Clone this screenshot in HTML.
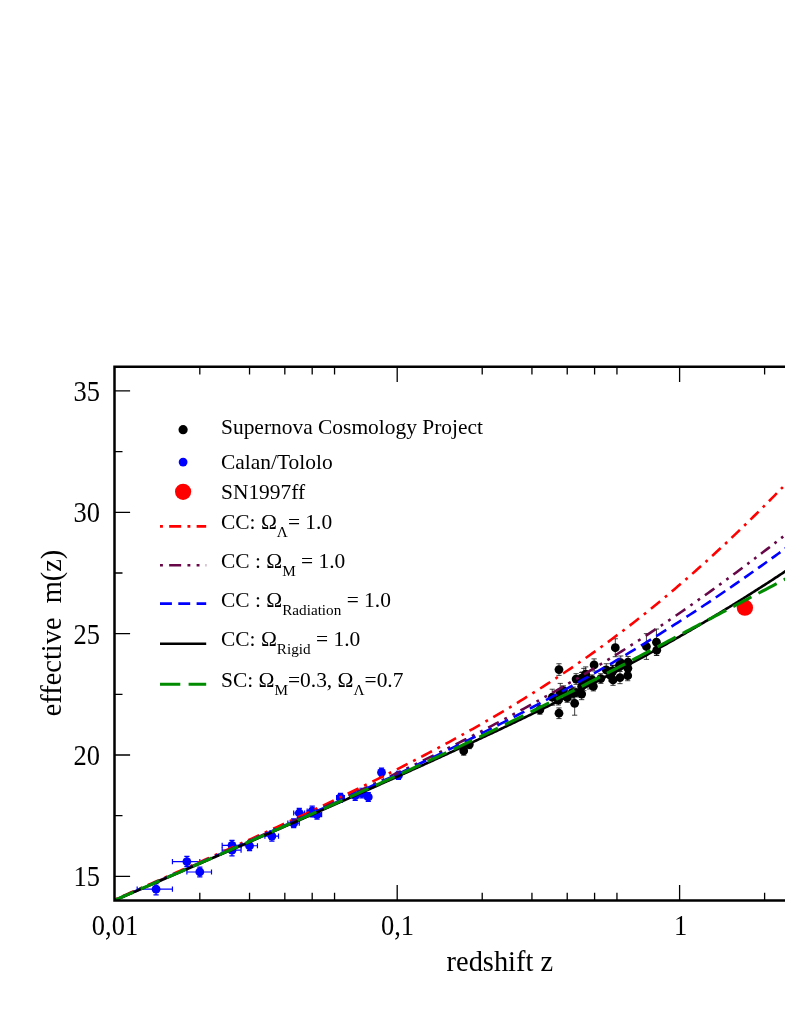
<!DOCTYPE html>
<html><head><meta charset="utf-8"><title>m(z)</title>
<style>
html,body{margin:0;padding:0;background:#fff;}
body{width:785px;height:1015px;position:relative;overflow:hidden;font-family:"Liberation Serif",serif;}
</style></head><body>
<svg width="785" height="1015" viewBox="0 0 785 1015" style="display:block;position:absolute;left:0;top:0;will-change:transform">
<rect width="785" height="1015" fill="#fff"/>
<defs><clipPath id="cp"><rect x="114.80" y="366.80" width="785.20" height="533.60"/></clipPath></defs>
<g clip-path="url(#cp)">
<path d="M583.83,668.36 V690.68 M581.23,668.36 H586.43 M581.23,690.68 H586.43" stroke="#000" stroke-width="0.75" fill="none"/>
<path d="M552.24,689.23 V705.25 M549.64,689.23 H554.84 M549.64,705.25 H554.84" stroke="#000" stroke-width="0.75" fill="none"/>
<path d="M574.66,691.41 V715.20 M572.06,691.41 H577.26 M572.06,715.20 H577.26" stroke="#000" stroke-width="0.75" fill="none"/>
<path d="M558.98,707.92 V718.60 M556.38,707.92 H561.58 M556.38,718.60 H561.58" stroke="#000" stroke-width="0.75" fill="none"/>
<path d="M573.21,687.04 V699.18 M570.61,687.04 H575.81 M570.61,699.18 H575.81" stroke="#000" stroke-width="0.75" fill="none"/>
<path d="M558.32,695.30 V705.00 M555.72,695.30 H560.92 M555.72,705.00 H560.92" stroke="#000" stroke-width="0.75" fill="none"/>
<path d="M560.28,683.40 V701.36 M557.68,683.40 H562.88 M557.68,701.36 H562.88" stroke="#000" stroke-width="0.75" fill="none"/>
<path d="M582.48,672.00 V684.13 M579.88,672.00 H585.08 M579.88,684.13 H585.08" stroke="#000" stroke-width="0.75" fill="none"/>
<path d="M585.69,666.90 V681.46 M583.09,666.90 H588.29 M583.09,681.46 H588.29" stroke="#000" stroke-width="0.75" fill="none"/>
<path d="M594.10,658.89 V671.03 M591.50,658.89 H596.70 M591.50,671.03 H596.70" stroke="#000" stroke-width="0.75" fill="none"/>
<path d="M627.71,670.54 V680.73 M625.11,670.54 H630.31 M625.11,680.73 H630.31" stroke="#000" stroke-width="0.75" fill="none"/>
<path d="M567.22,693.11 V702.33 M564.62,693.11 H569.82 M564.62,702.33 H569.82" stroke="#000" stroke-width="0.75" fill="none"/>
<path d="M619.98,671.51 V683.65 M617.38,671.51 H622.58 M617.38,683.65 H622.58" stroke="#000" stroke-width="0.75" fill="none"/>
<path d="M589.58,677.34 V688.99 M586.98,677.34 H592.18 M586.98,688.99 H592.18" stroke="#000" stroke-width="0.75" fill="none"/>
<path d="M581.67,688.50 V699.66 M579.07,688.50 H584.27 M579.07,699.66 H584.27" stroke="#000" stroke-width="0.75" fill="none"/>
<path d="M563.49,685.83 V695.54 M560.89,685.83 H566.09 M560.89,695.54 H566.09" stroke="#000" stroke-width="0.75" fill="none"/>
<path d="M610.66,670.30 V680.98 M608.06,670.30 H613.26 M608.06,680.98 H613.26" stroke="#000" stroke-width="0.75" fill="none"/>
<path d="M592.11,674.91 V684.62 M589.51,674.91 H594.71 M589.51,684.62 H594.71" stroke="#000" stroke-width="0.75" fill="none"/>
<path d="M593.36,681.70 V690.93 M590.76,681.70 H595.96 M590.76,690.93 H595.96" stroke="#000" stroke-width="0.75" fill="none"/>
<path d="M627.89,661.56 V675.15 M625.29,661.56 H630.49 M625.29,675.15 H630.49" stroke="#000" stroke-width="0.75" fill="none"/>
<path d="M656.45,629.04 V655.25 M653.85,629.04 H659.05 M653.85,655.25 H659.05" stroke="#000" stroke-width="0.75" fill="none"/>
<path d="M581.67,672.48 V683.65 M579.07,672.48 H584.27 M579.07,683.65 H584.27" stroke="#000" stroke-width="0.75" fill="none"/>
<path d="M576.09,673.70 V684.37 M573.49,673.70 H578.69 M573.49,684.37 H578.69" stroke="#000" stroke-width="0.75" fill="none"/>
<path d="M612.79,665.44 V676.61 M610.19,665.44 H615.39 M610.19,676.61 H615.39" stroke="#000" stroke-width="0.75" fill="none"/>
<path d="M646.42,633.65 V659.38 M643.82,633.65 H649.02 M643.82,659.38 H649.02" stroke="#000" stroke-width="0.75" fill="none"/>
<path d="M600.81,673.70 V683.40 M598.21,673.70 H603.41 M598.21,683.40 H603.41" stroke="#000" stroke-width="0.75" fill="none"/>
<path d="M463.71,746.51 V755.24 M461.11,746.51 H466.31 M461.11,755.24 H466.31" stroke="#000" stroke-width="0.75" fill="none"/>
<path d="M620.77,655.98 V669.57 M618.17,655.98 H623.37 M618.17,669.57 H623.37" stroke="#000" stroke-width="0.75" fill="none"/>
<path d="M615.30,638.75 V656.71 M612.70,638.75 H617.90 M612.70,656.71 H617.90" stroke="#000" stroke-width="0.75" fill="none"/>
<path d="M606.28,663.74 V675.88 M603.68,663.74 H608.88 M603.68,675.88 H608.88" stroke="#000" stroke-width="0.75" fill="none"/>
<path d="M469.29,740.44 V748.69 M466.69,740.44 H471.89 M466.69,748.69 H471.89" stroke="#000" stroke-width="0.75" fill="none"/>
<path d="M558.98,663.74 V675.39 M556.38,663.74 H561.58 M556.38,675.39 H561.58" stroke="#000" stroke-width="0.75" fill="none"/>
<path d="M587.52,674.91 V684.13 M584.92,674.91 H590.12 M584.92,684.13 H590.12" stroke="#000" stroke-width="0.75" fill="none"/>
<path d="M576.09,688.26 V696.99 M573.49,688.26 H578.69 M573.49,696.99 H578.69" stroke="#000" stroke-width="0.75" fill="none"/>
<path d="M628.08,656.46 V667.63 M625.48,656.46 H630.68 M625.48,667.63 H630.68" stroke="#000" stroke-width="0.75" fill="none"/>
<path d="M619.38,660.35 V670.54 M616.78,660.35 H621.98 M616.78,670.54 H621.98" stroke="#000" stroke-width="0.75" fill="none"/>
<path d="M539.85,705.49 V714.23 M537.25,705.49 H542.45 M537.25,714.23 H542.45" stroke="#000" stroke-width="0.75" fill="none"/>
<path d="M612.58,665.20 V675.88 M609.98,665.20 H615.18 M609.98,675.88 H615.18" stroke="#000" stroke-width="0.75" fill="none"/>
<path d="M581.67,679.03 V693.60 M579.07,679.03 H584.27 M579.07,693.60 H584.27" stroke="#000" stroke-width="0.75" fill="none"/>
<path d="M613.00,674.67 V685.35 M610.40,674.67 H615.60 M610.40,685.35 H615.60" stroke="#000" stroke-width="0.75" fill="none"/>
<path d="M572.03,687.77 V697.48 M569.43,687.77 H574.63 M569.43,697.48 H574.63" stroke="#000" stroke-width="0.75" fill="none"/>
<path d="M656.75,644.81 V655.49 M654.15,644.81 H659.35 M654.15,655.49 H659.35" stroke="#000" stroke-width="0.75" fill="none"/>
<circle cx="583.83" cy="679.52" r="4.40" fill="#000"/>
<circle cx="552.24" cy="697.24" r="4.40" fill="#000"/>
<circle cx="574.66" cy="703.30" r="4.40" fill="#000"/>
<circle cx="558.98" cy="713.26" r="4.40" fill="#000"/>
<circle cx="573.21" cy="693.11" r="4.40" fill="#000"/>
<circle cx="558.32" cy="700.15" r="4.40" fill="#000"/>
<circle cx="560.28" cy="692.38" r="4.40" fill="#000"/>
<circle cx="582.48" cy="678.06" r="4.40" fill="#000"/>
<circle cx="585.69" cy="674.18" r="4.40" fill="#000"/>
<circle cx="594.10" cy="664.96" r="4.40" fill="#000"/>
<circle cx="627.71" cy="675.64" r="4.40" fill="#000"/>
<circle cx="567.22" cy="697.72" r="4.40" fill="#000"/>
<circle cx="619.98" cy="677.58" r="4.40" fill="#000"/>
<circle cx="589.58" cy="683.16" r="4.40" fill="#000"/>
<circle cx="581.67" cy="694.08" r="4.40" fill="#000"/>
<circle cx="563.49" cy="690.68" r="4.40" fill="#000"/>
<circle cx="610.66" cy="675.64" r="4.40" fill="#000"/>
<circle cx="592.11" cy="679.76" r="4.40" fill="#000"/>
<circle cx="593.36" cy="686.32" r="4.40" fill="#000"/>
<circle cx="627.89" cy="668.36" r="4.40" fill="#000"/>
<circle cx="656.45" cy="642.14" r="4.40" fill="#000"/>
<circle cx="581.67" cy="678.06" r="4.40" fill="#000"/>
<circle cx="576.09" cy="679.03" r="4.40" fill="#000"/>
<circle cx="612.79" cy="671.03" r="4.40" fill="#000"/>
<circle cx="646.42" cy="646.51" r="4.40" fill="#000"/>
<circle cx="600.81" cy="678.55" r="4.40" fill="#000"/>
<circle cx="463.71" cy="750.87" r="4.40" fill="#000"/>
<circle cx="620.77" cy="662.77" r="4.40" fill="#000"/>
<circle cx="615.30" cy="647.73" r="4.40" fill="#000"/>
<circle cx="606.28" cy="669.81" r="4.40" fill="#000"/>
<circle cx="469.29" cy="744.56" r="4.40" fill="#000"/>
<circle cx="558.98" cy="669.57" r="4.40" fill="#000"/>
<circle cx="587.52" cy="679.52" r="4.40" fill="#000"/>
<circle cx="576.09" cy="692.63" r="4.40" fill="#000"/>
<circle cx="628.08" cy="662.05" r="4.40" fill="#000"/>
<circle cx="619.38" cy="665.44" r="4.40" fill="#000"/>
<circle cx="539.85" cy="709.86" r="4.40" fill="#000"/>
<circle cx="612.58" cy="670.54" r="4.40" fill="#000"/>
<circle cx="581.67" cy="686.32" r="4.40" fill="#000"/>
<circle cx="613.00" cy="680.01" r="4.40" fill="#000"/>
<circle cx="572.03" cy="692.63" r="4.40" fill="#000"/>
<circle cx="656.75" cy="650.15" r="4.40" fill="#000"/>
<path d="M249.54,840.92 V850.62 M246.94,840.92 H252.14 M246.94,850.62 H252.14 M241.08,845.77 H257.45 M241.08,843.17 V848.37 M257.45,843.17 V848.37" stroke="#0000ff" stroke-width="1.20" fill="none"/>
<path d="M312.19,808.15 V816.89 M309.59,808.15 H314.79 M309.59,816.89 H314.79 M307.18,812.52 H317.00 M307.18,809.92 V815.12 M317.00,809.92 V815.12" stroke="#0000ff" stroke-width="1.20" fill="none"/>
<path d="M231.99,844.31 V855.96 M229.39,844.31 H234.59 M229.39,855.96 H234.59 M222.17,850.14 H241.08 M222.17,847.54 V852.74 M241.08,847.54 V852.74" stroke="#0000ff" stroke-width="1.20" fill="none"/>
<path d="M361.92,788.25 V797.96 M359.32,788.25 H364.52 M359.32,797.96 H364.52 M358.60,793.10 H365.14 M358.60,790.50 V795.70 M365.14,790.50 V795.70" stroke="#0000ff" stroke-width="1.20" fill="none"/>
<path d="M231.99,840.43 V850.14 M229.39,840.43 H234.59 M229.39,850.14 H234.59 M222.17,845.28 H241.08 M222.17,842.68 V847.88 M241.08,842.68 V847.88" stroke="#0000ff" stroke-width="1.20" fill="none"/>
<path d="M156.07,883.63 V894.80 M153.47,883.63 H158.67 M153.47,894.80 H158.67 M137.16,889.21 H172.44 M137.16,886.61 V891.81 M172.44,886.61 V891.81" stroke="#0000ff" stroke-width="1.20" fill="none"/>
<path d="M398.42,771.26 V779.51 M395.82,771.26 H401.02 M395.82,779.51 H401.02 M395.97,775.39 H400.83 M395.97,772.79 V777.99 M400.83,772.79 V777.99" stroke="#0000ff" stroke-width="1.20" fill="none"/>
<path d="M199.81,867.13 V876.84 M197.21,867.13 H202.41 M197.21,876.84 H202.41 M186.89,871.98 H211.50 M186.89,869.38 V874.58 M211.50,869.38 V874.58" stroke="#0000ff" stroke-width="1.20" fill="none"/>
<path d="M271.90,830.97 V841.16 M269.30,830.97 H274.50 M269.30,841.16 H274.50 M264.89,836.06 H278.53 M264.89,833.46 V838.66 M278.53,833.46 V838.66" stroke="#0000ff" stroke-width="1.20" fill="none"/>
<path d="M299.27,808.39 V817.62 M296.67,808.39 H301.87 M296.67,817.62 H301.87 M293.69,813.01 H304.60 M293.69,810.41 V815.61 M304.60,810.41 V815.61" stroke="#0000ff" stroke-width="1.20" fill="none"/>
<path d="M293.69,818.83 V827.57 M291.09,818.83 H296.29 M291.09,827.57 H296.29 M287.85,823.20 H299.27 M287.85,820.60 V825.80 M299.27,820.60 V825.80" stroke="#0000ff" stroke-width="1.20" fill="none"/>
<path d="M186.89,856.45 V866.64 M184.29,856.45 H189.49 M184.29,866.64 H189.49 M172.44,861.55 H199.81 M172.44,858.95 V864.15 M199.81,858.95 V864.15" stroke="#0000ff" stroke-width="1.20" fill="none"/>
<path d="M368.29,792.62 V801.36 M365.69,792.62 H370.89 M365.69,801.36 H370.89 M365.14,796.99 H371.36 M365.14,794.39 V799.59 M371.36,794.39 V799.59" stroke="#0000ff" stroke-width="1.20" fill="none"/>
<path d="M381.52,768.11 V776.84 M378.92,768.11 H384.12 M378.92,776.84 H384.12 M378.70,772.47 H384.28 M378.70,769.87 V775.07 M384.28,769.87 V775.07" stroke="#0000ff" stroke-width="1.20" fill="none"/>
<path d="M340.53,793.35 V802.08 M337.93,793.35 H343.13 M337.93,802.08 H343.13 M336.58,797.72 H344.37 M336.58,795.12 V800.32 M344.37,795.12 V800.32" stroke="#0000ff" stroke-width="1.20" fill="none"/>
<path d="M355.20,790.68 V800.38 M352.60,790.68 H357.80 M352.60,800.38 H357.80 M351.69,795.53 H358.60 M351.69,792.93 V798.13 M358.60,792.93 V798.13" stroke="#0000ff" stroke-width="1.20" fill="none"/>
<path d="M317.00,810.34 V819.07 M314.40,810.34 H319.60 M314.40,819.07 H319.60 M312.19,814.70 H321.63 M312.19,812.10 V817.30 M321.63,812.10 V817.30" stroke="#0000ff" stroke-width="1.20" fill="none"/>
<path d="M312.19,806.21 V815.92 M309.59,806.21 H314.79 M309.59,815.92 H314.79 M307.18,811.06 H317.00 M307.18,808.46 V813.66 M317.00,808.46 V813.66" stroke="#0000ff" stroke-width="1.20" fill="none"/>
<circle cx="249.54" cy="845.77" r="4.40" fill="#0000ff"/>
<circle cx="312.19" cy="812.52" r="4.40" fill="#0000ff"/>
<circle cx="231.99" cy="850.14" r="4.40" fill="#0000ff"/>
<circle cx="361.92" cy="793.10" r="4.40" fill="#0000ff"/>
<circle cx="231.99" cy="845.28" r="4.40" fill="#0000ff"/>
<circle cx="156.07" cy="889.21" r="4.40" fill="#0000ff"/>
<circle cx="398.42" cy="775.39" r="4.40" fill="#0000ff"/>
<circle cx="199.81" cy="871.98" r="4.40" fill="#0000ff"/>
<circle cx="271.90" cy="836.06" r="4.40" fill="#0000ff"/>
<circle cx="299.27" cy="813.01" r="4.40" fill="#0000ff"/>
<circle cx="293.69" cy="823.20" r="4.40" fill="#0000ff"/>
<circle cx="186.89" cy="861.55" r="4.40" fill="#0000ff"/>
<circle cx="368.29" cy="796.99" r="4.40" fill="#0000ff"/>
<circle cx="381.52" cy="772.47" r="4.40" fill="#0000ff"/>
<circle cx="340.53" cy="797.72" r="4.40" fill="#0000ff"/>
<circle cx="355.20" cy="795.53" r="4.40" fill="#0000ff"/>
<circle cx="317.00" cy="814.70" r="4.40" fill="#0000ff"/>
<circle cx="312.19" cy="811.06" r="4.40" fill="#0000ff"/>
<circle cx="744.90" cy="607.70" r="8.15" fill="#ff0000"/>
<path d="M114.80,899.57 L117.18,898.53 M122.95,896.00 L126.61,894.39 L130.28,892.78 L133.94,891.17 M139.61,888.68 L142.27,887.51 M148.03,884.97 L151.69,883.35 L155.35,881.74 L159.01,880.12 M164.68,877.61 L167.33,876.44 M173.09,873.89 L176.75,872.27 L180.41,870.64 L184.06,869.02 M189.82,866.46 L192.47,865.28 M198.13,862.75 L201.78,861.12 L205.43,859.49 L209.08,857.86 L209.17,857.82 M214.83,855.28 L217.48,854.09 M223.22,851.51 L226.87,849.87 L230.52,848.22 L234.16,846.58 M239.90,843.98 L242.54,842.78 M248.19,840.22 L251.83,838.56 L255.47,836.90 L259.11,835.24 L259.20,835.20 M264.84,832.62 L267.48,831.42 M273.20,828.79 L276.83,827.11 L280.47,825.44 L284.10,823.76 M289.81,821.11 L292.44,819.89 M298.07,817.27 L301.69,815.58 L305.31,813.89 L308.93,812.19 L309.02,812.15 M314.63,809.51 L317.26,808.27 M322.95,805.57 L326.57,803.86 L330.18,802.14 L333.79,800.41 M339.47,797.69 L342.08,796.44 M347.67,793.74 L351.27,792.00 L354.86,790.25 L358.46,788.50 L358.55,788.45 M364.12,785.73 L366.72,784.45 M372.37,781.66 L375.96,779.89 L379.54,778.11 L383.12,776.32 M388.75,773.50 L391.25,772.24 M396.87,769.39 L400.43,767.58 L404.00,765.76 L407.56,763.93 M413.15,761.04 L415.73,759.71 M421.23,756.85 L424.77,754.99 L428.31,753.12 L431.85,751.25 L431.93,751.21 M437.41,748.29 L439.96,746.92 M445.51,743.94 L449.03,742.03 L452.54,740.12 L456.05,738.20 M461.56,735.15 L464.01,733.79 M469.51,730.72 L473.00,728.76 L476.48,726.79 L479.96,724.81 M485.42,721.68 L487.93,720.23 M493.29,717.11 L496.74,715.09 L500.19,713.06 L503.63,711.02 L503.72,710.97 M509.04,707.79 L511.52,706.29 M516.91,703.02 L520.32,700.93 L523.72,698.83 L527.12,696.73 M532.38,693.44 L534.83,691.89 M540.15,688.52 L543.52,686.36 L546.88,684.19 L550.24,682.01 M555.42,678.61 L557.84,677.02 M563.09,673.52 L566.41,671.29 L569.72,669.05 L573.03,666.80 M578.14,663.29 L580.52,661.64 M585.68,658.03 L588.95,655.72 L592.21,653.41 L595.47,651.08 M600.50,647.45 L602.84,645.75 M607.84,642.08 L611.06,639.70 L614.27,637.31 L617.47,634.91 M622.41,631.17 L624.71,629.41 M629.63,625.63 L632.79,623.18 L635.94,620.72 L639.01,618.31 M643.87,614.46 L646.13,612.65 M650.96,608.76 L654.06,606.24 L657.16,603.70 L660.17,601.23 M664.87,597.33 L667.09,595.47 M671.76,591.54 L674.81,588.96 L677.85,586.36 L680.81,583.82 M685.42,579.83 L687.61,577.92 M692.19,573.90 L695.19,571.25 L698.18,568.59 L701.01,566.06 M705.55,561.97 L707.62,560.09 M712.13,555.98 L715.07,553.28 L718.01,550.56 L720.72,548.04 M725.11,543.95 L727.15,542.03 M731.51,537.91 L734.40,535.15 L737.29,532.39 L739.89,529.89 M744.21,525.72 L746.21,523.77 M750.51,519.58 L753.36,516.78 L756.21,513.96 L758.62,511.57 M762.87,507.34 L764.78,505.43 M768.94,501.24 L771.75,498.40 L774.55,495.55 L776.87,493.19 M780.99,488.97 L782.87,487.03 M786.90,482.86 L789.68,479.98 L790.99,478.61" fill="none" stroke="#ff0000" stroke-width="2.60"/>
<path d="M114.80,899.96 L117.28,898.89 M122.96,896.41 L126.63,894.82 L130.30,893.22 L133.96,891.62 M139.65,889.14 L142.30,887.98 M147.99,885.50 L150.64,884.34 M156.42,881.82 L160.08,880.22 L163.75,878.61 L167.41,877.01 M173.18,874.48 L175.84,873.32 M181.51,870.83 L184.17,869.66 M189.94,867.13 L193.60,865.52 L197.26,863.91 L200.92,862.30 M206.69,859.76 L209.34,858.59 M215.11,856.04 L217.76,854.87 M223.43,852.36 L227.09,850.75 L230.74,849.13 L234.40,847.50 L234.49,847.46 M240.25,844.91 L242.90,843.73 M248.56,841.21 L251.21,840.03 M256.97,837.46 L260.62,835.83 L264.27,834.20 L267.92,832.57 M273.67,829.99 L276.32,828.80 M282.06,826.22 L284.62,825.07 M290.36,822.48 L294.01,820.84 L297.65,819.19 L301.29,817.54 L301.39,817.50 M307.03,814.93 L309.67,813.74 M315.41,811.12 L318.04,809.92 M323.68,807.34 L327.32,805.68 L330.96,804.01 L334.59,802.34 M340.31,799.70 L342.94,798.49 M348.57,795.88 L351.20,794.66 M356.92,792.01 L360.54,790.32 L364.16,788.63 L367.79,786.93 M373.49,784.25 L376.11,783.02 M381.72,780.37 L384.34,779.13 M389.94,776.47 L393.55,774.75 L397.16,773.02 L400.77,771.30 L400.86,771.25 M406.45,768.57 L409.06,767.31 M414.73,764.56 L417.25,763.34 M422.91,760.58 L426.51,758.82 L430.10,757.06 L433.69,755.30 M439.33,752.50 L441.93,751.21 M447.48,748.45 L450.08,747.15 M455.62,744.37 L459.19,742.57 L462.76,740.76 L466.32,738.95 L466.41,738.90 M471.93,736.08 L474.51,734.76 M480.11,731.87 L482.69,730.54 M488.19,727.68 L491.73,725.82 L495.27,723.96 L498.81,722.09 M504.37,719.14 L506.93,717.78 M512.40,714.85 L514.95,713.47 M520.49,710.47 L524.00,708.56 L527.51,706.64 L531.02,704.71 M536.53,701.66 L538.98,700.30 M544.47,697.22 L547.00,695.80 M552.40,692.75 L555.87,690.77 L559.34,688.78 L562.81,686.78 L562.90,686.73 M568.26,683.63 L570.77,682.17 M576.12,679.03 L578.62,677.56 M584.03,674.35 L587.47,672.29 L590.90,670.24 L594.32,668.17 M599.62,664.95 L602.10,663.44 M607.38,660.19 L609.85,658.67 M615.11,655.39 L618.50,653.27 L621.88,651.14 L625.26,649.00 M630.49,645.67 L632.85,644.16 M638.06,640.80 L640.50,639.22 M645.69,635.83 L649.03,633.64 L652.37,631.43 L655.62,629.28 M660.78,625.84 L663.10,624.28 M668.24,620.81 L670.56,619.23 M675.68,615.74 L678.98,613.47 L682.27,611.20 L685.31,609.09 M690.39,605.55 L692.69,603.94 M697.67,600.43 L699.96,598.81 M704.93,595.27 L708.18,592.94 L711.43,590.61 L714.35,588.50 M719.20,584.98 L721.47,583.33 M726.31,579.78 L728.56,578.12 M733.39,574.56 L736.60,572.17 L739.81,569.78 L742.53,567.74 M747.32,564.14 L749.48,562.51 M754.18,558.95 L756.33,557.32 M761.02,553.73 L764.19,551.30 L767.36,548.86 L769.90,546.91 M774.48,543.35 L776.61,541.70 M781.19,538.13 L783.23,536.53 M787.72,533.01 L790.86,530.53 L790.94,530.47" fill="none" stroke="#670748" stroke-width="2.60"/>
<path d="M114.80,900.10 L118.47,898.50 L122.14,896.91 L125.62,895.40 M131.31,892.93 L134.98,891.33 L138.65,889.74 L142.32,888.14 M148.00,885.67 L151.67,884.07 L155.34,882.47 L159.00,880.88 L159.09,880.84 M164.78,878.36 L168.44,876.76 L172.11,875.16 L175.78,873.56 L175.87,873.52 M181.55,871.04 L185.21,869.43 L188.88,867.83 L192.54,866.23 L192.64,866.19 M198.41,863.66 L202.07,862.06 L205.73,860.45 L209.40,858.84 M215.16,856.31 L218.83,854.70 L222.49,853.09 L226.15,851.48 L226.24,851.44 M232.01,848.90 L235.67,847.29 L239.33,845.67 L242.99,844.06 M248.75,841.51 L252.41,839.89 L256.06,838.28 L259.72,836.66 L259.81,836.61 M265.57,834.06 L269.23,832.44 L272.88,830.81 L276.54,829.19 M282.29,826.62 L285.95,824.99 L289.60,823.36 L293.25,821.73 M299.00,819.15 L302.65,817.52 L306.30,815.88 L309.95,814.24 L310.04,814.20 M315.69,811.65 L319.34,810.01 L322.98,808.36 L326.63,806.71 L326.72,806.67 M332.37,804.11 L336.01,802.46 L339.65,800.80 L343.29,799.15 L343.38,799.10 M349.02,796.53 L352.66,794.87 L356.30,793.20 L359.93,791.53 M365.65,788.90 L369.29,787.23 L372.92,785.55 L376.55,783.87 M382.26,781.22 L385.89,779.53 L389.52,777.84 L393.14,776.15 M398.75,773.52 L402.38,771.82 L405.99,770.11 L409.61,768.41 L409.70,768.36 M415.31,765.71 L418.92,763.99 L422.53,762.27 L426.14,760.55 M431.82,757.83 L435.43,756.10 L439.03,754.36 L442.63,752.62 M448.30,749.87 L451.90,748.12 L455.49,746.36 L459.08,744.60 M464.73,741.82 L468.32,740.05 L471.90,738.27 L475.49,736.49 M481.03,733.72 L484.61,731.93 L488.18,730.13 L491.75,728.33 L491.84,728.28 M497.37,725.47 L500.93,723.66 L504.49,721.83 L508.05,720.01 L508.14,719.96 M513.65,717.12 L517.20,715.27 L520.75,713.43 L524.29,711.57 L524.38,711.52 M529.87,708.64 L533.40,706.77 L536.94,704.89 L540.47,703.01 L540.55,702.96 M546.02,700.03 L549.54,698.14 L553.06,696.23 L556.57,694.32 L556.66,694.27 M562.10,691.30 L565.60,689.37 L569.10,687.44 L572.60,685.49 M578.10,682.42 L581.59,680.46 L585.07,678.50 L588.55,676.53 M594.03,673.40 L597.49,671.41 L600.96,669.42 L604.33,667.46 M609.78,664.29 L613.23,662.26 L616.67,660.23 L620.03,658.25 M625.44,655.02 L628.87,652.97 L632.30,650.90 L635.64,648.88 M640.93,645.66 L644.34,643.57 L647.75,641.48 L651.07,639.42 M656.25,636.20 L659.64,634.08 L663.03,631.95 L666.24,629.92 M671.47,626.60 L674.84,624.45 L678.21,622.29 L681.32,620.28 M686.44,616.96 L689.79,614.78 L693.13,612.59 L696.23,610.55 M701.23,607.24 L704.56,605.03 L707.89,602.81 L710.88,600.80 M715.77,597.50 L719.08,595.26 L722.39,593.01 L725.28,591.04 M730.14,587.70 L733.44,585.43 L736.73,583.15 L739.44,581.27 M744.27,577.89 L747.55,575.60 L750.82,573.29 L753.35,571.50 M758.08,568.15 L761.34,565.83 L764.60,563.50 L767.03,561.75 M771.66,558.42 L774.90,556.08 L778.14,553.73 L780.40,552.09 M784.93,548.78 L788.15,546.42 L790.97,544.35" fill="none" stroke="#0000ff" stroke-width="2.60"/>
<path d="M114.80,900.36 L116.21,899.75 L117.62,899.14 L119.04,898.53 L120.45,897.92 L121.86,897.31 L123.27,896.70 L124.68,896.09 L126.10,895.48 L127.51,894.87 L128.92,894.26 L130.33,893.65 L131.74,893.04 L133.16,892.43 L134.57,891.82 L135.98,891.21 L137.39,890.60 L138.80,889.99 L140.22,889.38 L141.63,888.76 L143.04,888.15 L144.45,887.54 L145.86,886.93 L147.28,886.32 L148.69,885.71 L150.10,885.10 L151.51,884.49 L152.92,883.88 L154.34,883.27 L155.75,882.66 L157.16,882.05 L158.57,881.44 L159.98,880.82 L161.40,880.21 L162.81,879.60 L164.22,878.99 L165.63,878.38 L167.04,877.77 L168.46,877.16 L169.87,876.55 L171.28,875.93 L172.69,875.32 L174.10,874.71 L175.52,874.10 L176.93,873.49 L178.34,872.88 L179.75,872.26 L181.16,871.65 L182.58,871.04 L183.99,870.43 L185.40,869.82 L186.81,869.20 L188.22,868.59 L189.64,867.98 L191.05,867.37 L192.46,866.75 L193.87,866.14 L195.28,865.53 L196.70,864.92 L198.11,864.30 L199.52,863.69 L200.93,863.08 L202.34,862.47 L203.76,861.85 L205.17,861.24 L206.58,860.63 L207.99,860.01 L209.40,859.40 L210.82,858.79 L212.23,858.17 L213.64,857.56 L215.05,856.95 L216.46,856.33 L217.88,855.72 L219.29,855.11 L220.70,854.49 L222.11,853.88 L223.52,853.26 L224.94,852.65 L226.35,852.04 L227.76,851.42 L229.17,850.81 L230.58,850.19 L232.00,849.58 L233.41,848.96 L234.82,848.35 L236.23,847.73 L237.64,847.12 L239.06,846.51 L240.47,845.89 L241.88,845.28 L243.29,844.66 L244.70,844.04 L246.12,843.43 L247.53,842.81 L248.94,842.20 L250.35,841.58 L251.76,840.97 L253.18,840.35 L254.59,839.73 L256.00,839.12 L257.41,838.50 L258.82,837.89 L260.24,837.27 L261.65,836.65 L263.06,836.04 L264.47,835.42 L265.88,834.80 L267.30,834.19 L268.71,833.57 L270.12,832.95 L271.53,832.33 L272.94,831.72 L274.36,831.10 L275.77,830.48 L277.18,829.86 L278.59,829.24 L280.00,828.63 L281.42,828.01 L282.83,827.39 L284.24,826.77 L285.65,826.15 L287.06,825.53 L288.48,824.91 L289.89,824.30 L291.30,823.68 L292.71,823.06 L294.12,822.44 L295.54,821.82 L296.95,821.20 L298.36,820.58 L299.77,819.96 L301.18,819.34 L302.60,818.72 L304.01,818.10 L305.42,817.48 L306.83,816.86 L308.24,816.23 L309.66,815.61 L311.07,814.99 L312.48,814.37 L313.89,813.75 L315.30,813.13 L316.72,812.51 L318.13,811.88 L319.54,811.26 L320.95,810.64 L322.36,810.02 L323.78,809.39 L325.19,808.77 L326.60,808.15 L328.01,807.52 L329.42,806.90 L330.84,806.28 L332.25,805.65 L333.66,805.03 L335.07,804.40 L336.48,803.78 L337.90,803.15 L339.31,802.53 L340.72,801.90 L342.13,801.28 L343.54,800.65 L344.96,800.03 L346.37,799.40 L347.78,798.77 L349.19,798.15 L350.60,797.52 L352.02,796.89 L353.43,796.27 L354.84,795.64 L356.25,795.01 L357.66,794.38 L359.08,793.76 L360.49,793.13 L361.90,792.50 L363.31,791.87 L364.72,791.24 L366.14,790.61 L367.55,789.98 L368.96,789.35 L370.37,788.72 L371.78,788.09 L373.20,787.46 L374.61,786.83 L376.02,786.20 L377.43,785.57 L378.84,784.94 L380.26,784.30 L381.67,783.67 L383.08,783.04 L384.49,782.41 L385.90,781.77 L387.32,781.14 L388.73,780.51 L390.14,779.87 L391.55,779.24 L392.96,778.60 L394.38,777.97 L395.79,777.33 L397.20,776.70 L398.61,776.06 L400.02,775.43 L401.44,774.79 L402.85,774.15 L404.26,773.52 L405.67,772.88 L407.08,772.24 L408.50,771.60 L409.91,770.96 L411.32,770.33 L412.73,769.69 L414.14,769.05 L415.56,768.41 L416.97,767.77 L418.38,767.13 L419.79,766.49 L421.20,765.84 L422.62,765.20 L424.03,764.56 L425.44,763.92 L426.85,763.27 L428.26,762.63 L429.68,761.99 L431.09,761.34 L432.50,760.70 L433.91,760.05 L435.32,759.41 L436.74,758.76 L438.15,758.12 L439.56,757.47 L440.97,756.82 L442.38,756.18 L443.80,755.53 L445.21,754.88 L446.62,754.23 L448.03,753.58 L449.44,752.93 L450.86,752.28 L452.27,751.63 L453.68,750.98 L455.09,750.33 L456.50,749.68 L457.92,749.02 L459.33,748.37 L460.74,747.72 L462.15,747.06 L463.56,746.41 L464.98,745.75 L466.39,745.10 L467.80,744.44 L469.21,743.79 L470.62,743.13 L472.04,742.47 L473.45,741.81 L474.86,741.16 L476.27,740.50 L477.68,739.84 L479.10,739.18 L480.51,738.51 L481.92,737.85 L483.33,737.19 L484.74,736.53 L486.16,735.87 L487.57,735.20 L488.98,734.54 L490.39,733.87 L491.80,733.21 L493.22,732.54 L494.63,731.87 L496.04,731.21 L497.45,730.54 L498.86,729.87 L500.28,729.20 L501.69,728.53 L503.10,727.86 L504.51,727.19 L505.92,726.52 L507.34,725.84 L508.75,725.17 L510.16,724.49 L511.57,723.82 L512.98,723.14 L514.40,722.47 L515.81,721.79 L517.22,721.11 L518.63,720.44 L520.04,719.76 L521.46,719.08 L522.87,718.40 L524.28,717.71 L525.69,717.03 L527.10,716.35 L528.52,715.67 L529.93,714.98 L531.34,714.30 L532.75,713.61 L534.16,712.92 L535.58,712.24 L536.99,711.55 L538.40,710.86 L539.81,710.17 L541.22,709.48 L542.64,708.79 L544.05,708.09 L545.46,707.40 L546.87,706.71 L548.28,706.01 L549.70,705.32 L551.11,704.62 L552.52,703.92 L553.93,703.22 L555.34,702.52 L556.76,701.82 L558.17,701.12 L559.58,700.42 L560.99,699.72 L562.40,699.01 L563.82,698.31 L565.23,697.60 L566.64,696.89 L568.05,696.18 L569.46,695.48 L570.88,694.77 L572.29,694.06 L573.70,693.34 L575.11,692.63 L576.52,691.92 L577.94,691.20 L579.35,690.49 L580.76,689.77 L582.17,689.05 L583.58,688.33 L585.00,687.61 L586.41,686.89 L587.82,686.17 L589.23,685.44 L590.64,684.72 L592.06,683.99 L593.47,683.27 L594.88,682.54 L596.29,681.81 L597.70,681.08 L599.12,680.35 L600.53,679.62 L601.94,678.88 L603.35,678.15 L604.76,677.41 L606.18,676.68 L607.59,675.94 L609.00,675.20 L610.41,674.46 L611.82,673.72 L613.24,672.97 L614.65,672.23 L616.06,671.48 L617.47,670.74 L618.88,669.99 L620.30,669.24 L621.71,668.49 L623.12,667.74 L624.53,666.99 L625.94,666.23 L627.36,665.48 L628.77,664.72 L630.18,663.96 L631.59,663.20 L633.00,662.44 L634.42,661.68 L635.83,660.92 L637.24,660.15 L638.65,659.39 L640.06,658.62 L641.48,657.85 L642.89,657.08 L644.30,656.31 L645.71,655.53 L647.12,654.76 L648.54,653.98 L649.95,653.21 L651.36,652.43 L652.77,651.65 L654.18,650.87 L655.60,650.09 L657.01,649.30 L658.42,648.52 L659.83,647.73 L661.24,646.94 L662.66,646.15 L664.07,645.36 L665.48,644.56 L666.89,643.77 L668.30,642.97 L669.72,642.18 L671.13,641.38 L672.54,640.58 L673.95,639.77 L675.36,638.97 L676.78,638.17 L678.19,637.36 L679.60,636.55 L681.01,635.74 L682.42,634.93 L683.84,634.12 L685.25,633.30 L686.66,632.49 L688.07,631.67 L689.48,630.85 L690.90,630.03 L692.31,629.21 L693.72,628.38 L695.13,627.56 L696.54,626.73 L697.96,625.90 L699.37,625.07 L700.78,624.24 L702.19,623.40 L703.60,622.57 L705.02,621.73 L706.43,620.89 L707.84,620.05 L709.25,619.21 L710.66,618.37 L712.08,617.52 L713.49,616.68 L714.90,615.83 L716.31,614.98 L717.72,614.12 L719.14,613.27 L720.55,612.42 L721.96,611.56 L723.37,610.70 L724.78,609.84 L726.20,608.98 L727.61,608.11 L729.02,607.25 L730.43,606.38 L731.84,605.51 L733.26,604.64 L734.67,603.77 L736.08,602.89 L737.49,602.02 L738.90,601.14 L740.32,600.26 L741.73,599.38 L743.14,598.50 L744.55,597.61 L745.96,596.73 L747.38,595.84 L748.79,594.95 L750.20,594.06 L751.61,593.16 L753.02,592.27 L754.44,591.37 L755.85,590.47 L757.26,589.57 L758.67,588.67 L760.08,587.77 L761.50,586.86 L762.91,585.96 L764.32,585.05 L765.73,584.14 L767.14,583.22 L768.56,582.31 L769.97,581.39 L771.38,580.48 L772.79,579.56 L774.20,578.64 L775.62,577.71 L777.03,576.79 L778.44,575.86 L779.85,574.93 L781.26,574.00 L782.68,573.07 L784.09,572.14 L785.50,571.20 L786.91,570.27 L788.32,569.33 L789.74,568.39 L791.15,567.45 L792.56,566.50" fill="none" stroke="#000" stroke-width="2.60"/>
<path d="M114.80,900.21 L118.47,898.63 L122.14,897.04 L125.81,895.45 L129.48,893.85 L133.15,892.26 L133.43,892.14 M140.67,889.00 L144.34,887.41 L148.01,885.82 L151.68,884.22 L155.35,882.63 L159.02,881.04 L159.57,880.80 M166.91,877.61 L170.58,876.02 L174.25,874.42 L177.91,872.82 L181.58,871.23 L185.25,869.63 L185.80,869.39 M193.04,866.24 L196.71,864.64 L200.37,863.04 L204.04,861.44 L207.71,859.84 L211.37,858.24 L211.92,858.00 M219.25,854.80 L222.92,853.19 L226.58,851.59 L230.25,849.98 L233.91,848.38 L237.57,846.77 L238.12,846.53 M245.36,843.36 L249.02,841.75 L252.68,840.14 L256.34,838.53 L260.00,836.92 L263.67,835.31 L264.21,835.07 M271.54,831.84 L275.20,830.23 L278.85,828.61 L282.51,826.99 L286.17,825.38 L289.83,823.76 L290.38,823.51 M297.60,820.31 L301.26,818.69 L304.91,817.07 L308.57,815.44 L312.22,813.82 L315.88,812.19 L316.42,811.94 M323.73,808.69 L327.38,807.05 L331.03,805.42 L334.68,803.79 L338.33,802.15 L341.98,800.51 L342.53,800.27 M349.74,797.03 L353.38,795.38 L357.03,793.74 L360.67,792.09 L364.32,790.44 L367.96,788.79 L368.51,788.55 M375.79,785.24 L379.44,783.58 L383.08,781.93 L386.71,780.27 L390.35,778.60 L393.99,776.94 L394.54,776.69 M401.72,773.40 L405.35,771.73 L408.98,770.05 L412.62,768.38 L416.25,766.70 L419.88,765.02 L420.42,764.77 M427.68,761.40 L431.30,759.71 L434.93,758.02 L438.55,756.32 L442.17,754.63 L445.80,752.93 L446.34,752.67 M453.58,749.26 L457.19,747.56 L460.81,745.84 L464.42,744.13 L468.04,742.41 L471.65,740.69 L472.10,740.48 M479.32,737.03 L482.92,735.30 L486.53,733.57 L490.13,731.83 L493.73,730.09 L497.33,728.35 L497.87,728.09 M504.98,724.63 L508.58,722.88 L512.17,721.13 L515.76,719.37 L519.35,717.60 L522.94,715.84 L523.48,715.57 M530.65,712.03 L534.24,710.25 L537.82,708.47 L541.40,706.69 L544.98,704.90 L548.55,703.11 L549.09,702.84 M556.15,699.29 L559.72,697.49 L563.29,695.69 L566.86,693.88 L570.43,692.07 L573.99,690.26 L574.53,689.98 M581.65,686.35 L585.21,684.52 L588.77,682.70 L592.33,680.87 L595.88,679.03 L599.44,677.20 L599.97,676.92 M606.98,673.29 L610.53,671.45 L614.08,669.60 L617.63,667.75 L621.17,665.90 L624.72,664.05 L625.25,663.77 M632.34,660.05 L635.88,658.19 L639.42,656.33 L642.96,654.47 L646.49,652.60 L650.03,650.73 L650.56,650.45 M657.55,646.76 L661.08,644.89 L664.62,643.02 L668.15,641.14 L671.68,639.27 L675.22,637.39 L675.75,637.11 M682.81,633.36 L686.34,631.48 L689.88,629.61 L693.41,627.73 L696.94,625.85 L700.47,623.97 L701.00,623.69 M707.98,619.98 L711.51,618.10 L715.04,616.23 L718.57,614.35 L722.11,612.47 L725.64,610.60 L726.17,610.32 M733.24,606.57 L736.77,604.70 L740.31,602.82 L743.84,600.95 L747.38,599.08 L750.92,597.22 L751.45,596.94 M758.43,593.25 L761.97,591.39 L765.51,589.52 L769.05,587.66 L772.59,585.80 L776.14,583.95 L776.67,583.67 M783.76,579.96 L787.30,578.11 L790.85,576.25 L790.94,576.21" fill="none" stroke="#008b00" stroke-width="3.10"/>
</g>
<path d="M900,366.80 H114.50 V900.40 H900" fill="none" stroke="#000" stroke-width="2.50" stroke-linejoin="miter"/>
<path d="M199.81,366.80 v7.70 M199.81,900.40 v-7.70 M249.54,366.80 v7.70 M249.54,900.40 v-7.70 M284.82,366.80 v7.70 M284.82,900.40 v-7.70 M312.19,366.80 v7.70 M312.19,900.40 v-7.70 M334.55,366.80 v7.70 M334.55,900.40 v-7.70 M397.20,366.80 v15.30 M397.20,900.40 v-15.30 M482.21,366.80 v7.70 M482.21,900.40 v-7.70 M531.94,366.80 v7.70 M531.94,900.40 v-7.70 M567.22,366.80 v7.70 M567.22,900.40 v-7.70 M594.59,366.80 v7.70 M594.59,900.40 v-7.70 M616.95,366.80 v7.70 M616.95,900.40 v-7.70 M679.60,366.80 v15.30 M679.60,900.40 v-15.30 M764.61,366.80 v7.70 M764.61,900.40 v-7.70 M114.50,876.35 h15.60 M114.50,815.68 h8.00 M114.50,755.00 h15.60 M114.50,694.33 h8.00 M114.50,633.65 h15.60 M114.50,572.98 h8.00 M114.50,512.30 h15.60 M114.50,451.63 h8.00 M114.50,390.95 h15.60" fill="none" stroke="#000" stroke-width="1.30"/>
<g font-family="'Liberation Serif', serif" font-size="28" fill="#000">
<text transform="translate(99.9,886.35) scale(0.945,1.040)" text-anchor="end">15</text>
<text transform="translate(99.9,765.00) scale(0.945,1.040)" text-anchor="end">20</text>
<text transform="translate(99.9,643.65) scale(0.945,1.040)" text-anchor="end">25</text>
<text transform="translate(99.9,522.30) scale(0.945,1.040)" text-anchor="end">30</text>
<text transform="translate(99.9,400.95) scale(0.945,1.040)" text-anchor="end">35</text>
<text transform="translate(115.00,934.9) scale(0.945,1.040)" text-anchor="middle">0,01</text>
<text transform="translate(397.50,934.9) scale(0.945,1.040)" text-anchor="middle">0,1</text>
<text transform="translate(680.60,934.9) scale(0.945,1.040)" text-anchor="middle">1</text>
<text x="499.8" y="971" text-anchor="middle" font-size="28.4">redshift z</text>
<text transform="translate(61.4,633.0) rotate(-90)" text-anchor="middle" font-size="28.4" xml:space="preserve">effective  m(z)</text>
</g>
<g font-family="'Liberation Serif', serif" font-size="21.45" fill="#000">
<text x="221.0" y="434.4">Supernova Cosmology Project</text>
<text x="221.0" y="468.8">Calan/Tololo</text>
<text x="221.0" y="498.5">SN1997ff</text>
<text x="221.0" y="528.5">CC: Ω<tspan dy="8.4" font-size="15.2">Λ</tspan><tspan dy="-8.4" font-size="21.45">= 1.0</tspan></text>
<text x="221.0" y="567.5">CC : Ω<tspan dy="8.4" font-size="15.2">M</tspan><tspan dy="-8.4" font-size="21.45"> = 1.0</tspan></text>
<text x="221.0" y="606.6">CC : Ω<tspan dy="8.4" font-size="15.2">Radiation</tspan><tspan dy="-8.4" font-size="21.45"> = 1.0</tspan></text>
<text x="221.0" y="645.6">CC: Ω<tspan dy="8.4" font-size="15.2">Rigid</tspan><tspan dy="-8.4" font-size="21.45"> = 1.0</tspan></text>
<text x="221.0" y="686.5">SC: Ω<tspan dy="8.4" font-size="15.2">M</tspan><tspan dy="-8.4" font-size="21.45">=0.3, Ω</tspan><tspan dy="8.4" font-size="15.2">Λ</tspan><tspan dy="-8.4" font-size="21.45">=0.7</tspan></text>
</g>
<circle cx="183.1" cy="429.7" r="4.6" fill="#000"/>
<circle cx="183.1" cy="462.1" r="4.4" fill="#0000ff"/>
<circle cx="183.1" cy="491.8" r="8.1" fill="#ff0000"/>
<path d="M160.00,526.40 H206.20" stroke="#ff0000" stroke-width="2.60" fill="none" stroke-dasharray="2.90,6.26,12.03,6.26"/>
<path d="M160.00,565.20 H206.20" stroke="#670748" stroke-width="2.60" fill="none" stroke-dasharray="2.90,6.26,12.03,6.26,2.90,6.26"/>
<path d="M160.00,603.60 H206.20" stroke="#0000ff" stroke-width="2.60" fill="none" stroke-dasharray="11.90,6.40"/>
<path d="M160.00,643.80 H206.20" stroke="#000000" stroke-width="2.60" fill="none"/>
<path d="M160.00,684.20 H206.20" stroke="#008b00" stroke-width="3.10" fill="none" stroke-dasharray="20.30,8.30"/>
</svg>
</body></html>
